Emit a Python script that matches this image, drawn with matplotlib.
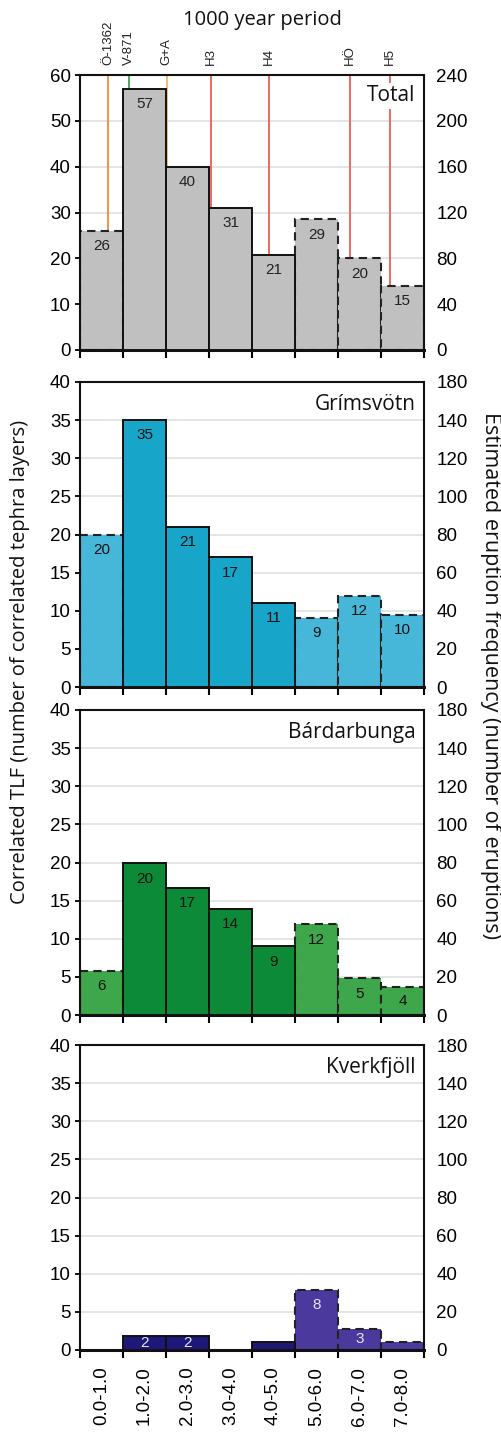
import numpy as np
import matplotlib.pyplot as plt
from matplotlib.transforms import blended_transform_factory

plt.rcParams['font.family'] = ['Liberation Sans', 'DejaVu Sans']

# ---- data ----
periods = ['0.0-1.0', '1.0-2.0', '2.0-3.0', '3.0-4.0',
           '4.0-5.0', '5.0-6.0', '6.0-7.0', '7.0-8.0']
edges = np.arange(9)

total_h = [26, 57, 40, 31, 20.7, 28.5, 20, 14]
total_lab = ['26', '57', '40', '31', '21', '29', '20', '15']

grim_h = [20, 35, 21, 17, 11, 9.1, 12, 9.5]
grim_lab = ['20', '35', '21', '17', '11', '9', '12', '10']

bard_h = [5.8, 19.9, 16.7, 13.9, 9, 11.9, 4.8, 3.7]
bard_lab = ['6', '20', '17', '14', '9', '12', '5', '4']

kver_h = [0, 1.9, 1.9, 0, 1.1, 7.9, 2.8, 1.1]
kver_lab = ['', '2', '2', '', '', '8', '3', '']

# dashed outline = incomplete record
dashed = [True, False, False, False, False, True, True, True]

events = ['Ö-1362', 'V-871', 'G+A', 'H3', 'H4', 'HÖ', 'H5']
event_age = [0.65, 1.14, 2.02, 3.05, 4.4, 6.27, 7.2]
event_col = ['#f08a3a', '#3fa34d', '#f2b560', '#ee5c55', '#ee5c55', '#ee5c55', '#ee5c55']

right_ticks = [0, 20, 40, 60, 80, 100, 120, 140, 160]
right_labels = ['0', '20', '40', '60', '80', '100', '120', '140', '180']

panels = [
    dict(name='Total', h=total_h, lab=total_lab, top=60, step=10,
         solid='#c0c0c0', light='#c0c0c0', txt='#222222'),
    dict(name='Grímsvötn', h=grim_h, lab=grim_lab, top=40, step=5,
         solid='#17a6ca', light='#46b7d8', txt='#111111'),
    dict(name='Bárdarbunga', h=bard_h, lab=bard_lab, top=40, step=5,
         solid='#0d8a37', light='#3ea64b', txt='#111111'),
    dict(name='Kverkfjöll', h=kver_h, lab=kver_lab, top=40, step=5,
         solid='#1e1878', light='#4b399d', txt='#e8e4ff'),
]

num_font = 'Liberation Sans'
txt_font = 'Open Sans'
tick_size = 13.5
bar_size = 11

fig = plt.figure(figsize=(5.02, 14.35), dpi=100)
W, H = 502, 1435
# axes boxes in pixels: (left, top, right, bottom)
boxes = [(80, 75, 424, 350), (80, 382, 424, 687),
         (80, 710, 424, 1015), (80, 1045, 424, 1350)]

axes = []
for p, (l, t, r, b) in zip(panels, boxes):
    ax = fig.add_axes([l / W, 1 - b / H, (r - l) / W, (b - t) / H])
    axes.append(ax)
    ax.set_xlim(0, 8)
    ax.set_ylim(0, p['top'])
    ax.set_axisbelow(True)
    ax.yaxis.grid(True, color='#e3e3e3', lw=1.3, zorder=0)

    # dashed bars first so solid outlines win on shared edges
    for i in range(8):
        if not dashed[i] or p['h'][i] <= 0:
            continue
        ax.bar(edges[i], p['h'][i], width=1, align='edge', color=p['light'],
               edgecolor='#222222', linewidth=1.5, linestyle=(0, (4, 2.5)), zorder=2)
    for i in range(8):
        if dashed[i] or p['h'][i] <= 0:
            continue
        ax.bar(edges[i], p['h'][i], width=1, align='edge', color=p['solid'],
               edgecolor='#111111', linewidth=1.4, zorder=3)

    for i in range(8):
        if not p['lab'][i]:
            continue
        hv = p['h'][i]
        if hv < 4:
            ax.text(edges[i] + 0.5, hv / 2, p['lab'][i], ha='center', va='center',
                    fontsize=bar_size, family=num_font, color=p['txt'], zorder=5)
        else:
            ax.annotate(p['lab'][i], (edges[i] + 0.5, hv), xytext=(0, -6),
                        textcoords='offset points', ha='center', va='top',
                        fontsize=bar_size, family=num_font, color=p['txt'], zorder=5)

    ax.set_yticks(np.arange(0, p['top'] + 1, p['step']))
    ax.set_xticks(edges)
    ax.set_xticks(edges[:-1] + 0.5, minor=True)
    ax.tick_params(axis='y', direction='out', length=3.5, width=1.3, pad=3,
                   labelsize=tick_size)
    ax.tick_params(axis='x', which='major', direction='out', length=6, width=1.5,
                   labelbottom=False)
    ax.tick_params(axis='x', which='minor', length=0, labelbottom=False)
    for s in ax.spines.values():
        s.set_linewidth(1.5)
        s.set_color('#111111')
    ax.spines['bottom'].set_linewidth(2.2)

    ax2 = ax.twinx()
    if p['top'] == 60:
        ax2.set_ylim(0, 240)
        ax2.set_yticks(np.arange(0, 241, 40))
    else:
        ax2.set_ylim(0, 160)
        ax2.set_yticks(right_ticks)
        ax2.set_yticklabels(right_labels)
    ax2.tick_params(axis='y', length=0, pad=9, labelsize=tick_size)
    for s in ax2.spines.values():
        s.set_visible(False)

    ax.text(0.975, 0.962, p['name'], transform=ax.transAxes, ha='right', va='top',
            fontsize=15, family=txt_font, color='#111111', zorder=6,
            bbox=dict(facecolor='white', edgecolor='none', pad=1.5))

# event markers in the Total panel
ax0 = axes[0]
trans = blended_transform_factory(ax0.transData, ax0.transAxes)
ax0.vlines(event_age, 0, 60, colors=event_col, lw=1.3, zorder=1.5)
for name, age in zip(events, event_age):
    ax0.annotate(name, (age, 1.0), xycoords=trans, xytext=(0, 7),
                 textcoords='offset points', rotation=90, ha='center', va='bottom',
                 fontsize=9.5, family=num_font, color='#222222')

fig.text(262 / W, 1 - 20 / H, '1000 year period', ha='center', va='center',
         fontsize=14.5, family=txt_font, color='#111111')

# period labels under the last panel
axes[-1].tick_params(axis='x', which='minor', labelbottom=True, pad=12,
                     labelrotation=90, labelsize=tick_size)
axes[-1].set_xticklabels(periods, minor=True, va='top')

fig.text(20 / W, 1 - 662 / H, 'Correlated TLF (number of correlated tephra layers)',
         rotation=90, ha='center', va='center', fontsize=14.5, family=txt_font,
         color='#111111')
fig.text(490 / W, 1 - 676 / H, 'Estimated eruption frequency (number of eruptions)',
         rotation=-90, ha='center', va='center', fontsize=15.5, family=txt_font,
         color='#111111')

fig.savefig('out.png', dpi=100)
